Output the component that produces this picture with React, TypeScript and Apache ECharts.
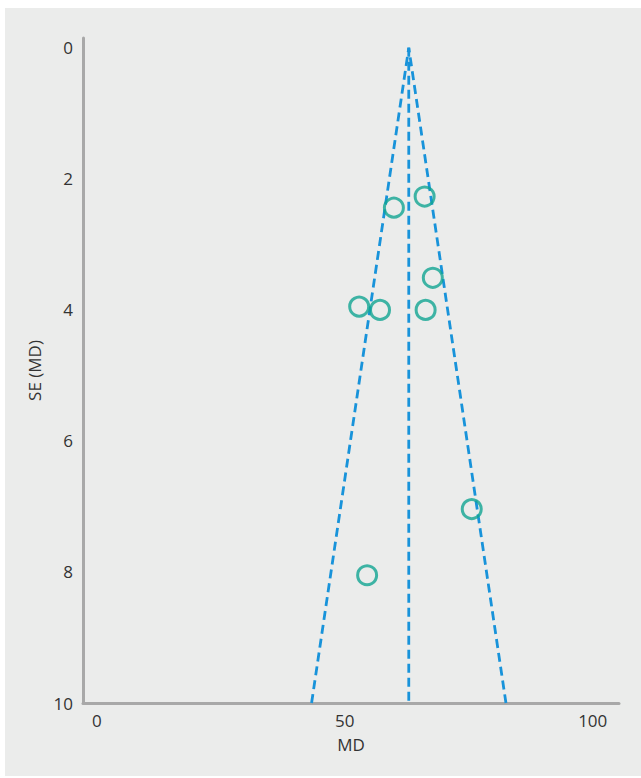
import React, { useEffect, useRef } from "react";
import * as echarts from "echarts";

const studyMD = [66.1, 59.9, 67.75, 52.9, 57.1, 66.3, 75.6, 54.5];
const studySE = [2.27, 2.44, 3.51, 3.95, 4.0, 4.0, 7.04, 8.05];
const pooledMD = 62.9;
const funnelSE = [0, 10];
const xTickLabels = [0, 50, 100];
const yTickLabels = [0, 2, 4, 6, 8, 10];

export default function App() {
  const ref = useRef<HTMLDivElement>(null);
  useEffect(() => {
    if (!ref.current) return;
    const chart = echarts.init(ref.current, null, { renderer: "svg" });
    const seMax = funnelSE[1];
    const funnel = [
      [pooledMD - 1.96 * seMax, seMax],
      [pooledMD, funnelSE[0]],
      [pooledMD + 1.96 * seMax, seMax],
    ];
    const center = [
      [pooledMD, funnelSE[0]],
      [pooledMD, seMax],
    ];
    const font = "'Open Sans', 'Noto Sans', sans-serif";
    chart.setOption({
      animation: false,
      backgroundColor: "#ffffff",
      graphic: [
        {
          type: "rect",
          z: -10,
          silent: true,
          shape: { x: 5, y: 8, width: 636, height: 768 },
          style: { fill: "#ebeceb" },
        },
      ],
      grid: { left: 83, right: 22, top: 38, bottom: 75, containLabel: false },
      xAxis: {
        type: "value",
        min: -2.8,
        max: 105.3,
        name: "MD",
        nameLocation: "middle",
        nameGap: 33,
        nameTextStyle: { color: "#333", fontSize: 17, fontFamily: font },
        axisLine: { show: true, onZero: false, lineStyle: { color: "#a8a8a8", width: 3 } },
        axisTick: { show: false },
        splitLine: { show: false },
        axisLabel: {
          customValues: xTickLabels,
          color: "#333",
          fontSize: 17,
          fontFamily: font,
          margin: 9,
        },
      },
      yAxis: {
        type: "value",
        inverse: true,
        min: -0.15,
        max: 10,
        name: "SE (MD)",
        nameLocation: "middle",
        nameGap: 30,
        nameTextStyle: { color: "#333", fontSize: 17, fontFamily: font },
        axisLine: { show: true, onZero: false, lineStyle: { color: "#a8a8a8", width: 3 } },
        axisTick: { show: false },
        splitLine: { show: false },
        axisLabel: {
          customValues: yTickLabels,
          color: "#333",
          fontSize: 17,
          fontFamily: font,
          margin: 10,
        },
      },
      series: [
        {
          type: "line",
          data: funnel,
          symbol: "none",
          lineStyle: { color: "#1893da", width: 2.8, type: [9, 5] },
          z: 2,
        },
        {
          type: "line",
          data: center,
          symbol: "none",
          lineStyle: { color: "#1893da", width: 2.8, type: [9, 5] },
          z: 2,
        },
        {
          type: "scatter",
          data: studyMD.map((m, i) => [m, studySE[i]]),
          symbol: "circle",
          symbolSize: 19,
          itemStyle: { color: "none", borderColor: "#12a592", borderWidth: 3 },
          z: 3,
        },
      ],
    });
    return () => chart.dispose();
  }, []);
  return (
    <div
      ref={ref}
      style={{ position: "fixed", left: 0, top: 0, width: 641, height: 778 }}
    />
  );
}
